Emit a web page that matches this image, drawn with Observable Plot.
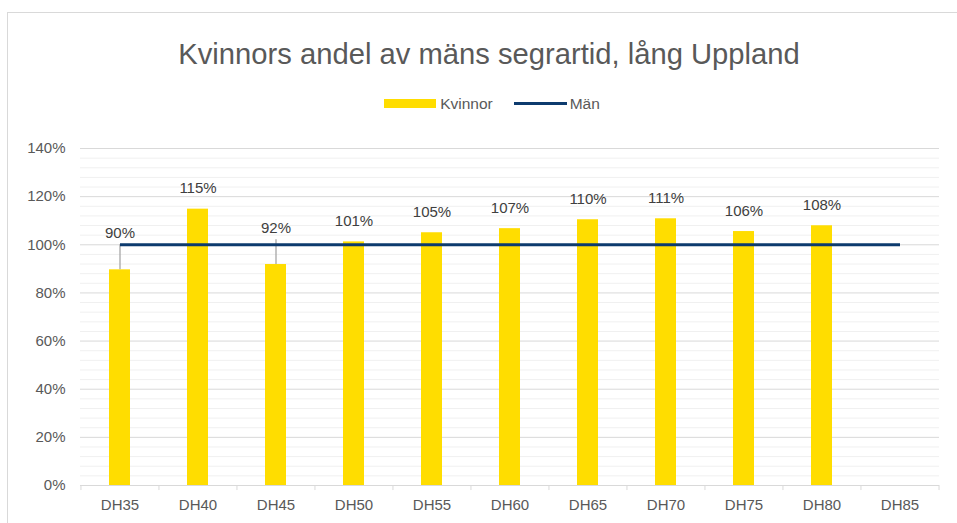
<!DOCTYPE html>
<html>
<head>
<meta charset="utf-8">
<script src="https://cdn.jsdelivr.net/npm/d3@7"></script>
<script src="https://cdn.jsdelivr.net/npm/@observablehq/plot@0.6"></script>
<style>
  html, body { margin: 0; padding: 0; background: #fff; }
  body { width: 957px; height: 523px; position: relative; overflow: hidden; font-family: "Liberation Sans", Arial, sans-serif; }
  #frame { position: absolute; left: 7px; top: 12px; width: 970px; height: 530px; border: 1px solid #d9d9d9; box-sizing: border-box; }
  #title { position: absolute; left: 7px; width: 964px; top: 40px; text-align: center; font-size: 29.2px; line-height: 1; color: #595959; }
  #legend { position: absolute; left: 7px; width: 970px; top: 96px; display: flex; justify-content: center; align-items: center; font-size: 15.5px; line-height: 1; color: #595959; height: 15px; }
  .sw-bar { width: 52px; height: 9px; background: #FFDD00; margin-right: 4px; }
  .sw-line { width: 53px; height: 3px; background: #0d3b6e; margin-right: 3px; margin-left: 21px; }
  #chart { position: absolute; left: 0; top: 125px; }
</style>
</head>
<body>
<div id="frame"></div>
<div id="title">Kvinnors andel av mäns segrartid, lång Uppland</div>
<div id="legend"><div class="sw-bar"></div><span>Kvinnor</span><div class="sw-line"></div><span>Män</span></div>
<div id="chart"></div>
<script>
// ---- data ----
const categories = ["DH35","DH40","DH45","DH50","DH55","DH60","DH65","DH70","DH75","DH80","DH85"];
const kvinnor = [0.896, 1.148, 0.918, 1.012, 1.050, 1.067, 1.104, 1.108, 1.055, 1.079, null];
const man = [1,1,1,1,1,1,1,1,1,1,1];
const yTicks = [0, 0.2, 0.4, 0.6, 0.8, 1.0, 1.2, 1.4];

// labels that were moved above the men's line (with leader lines)
const moved = { DH35: { label: 1.049, leaderTop: 1.0 }, DH45: { label: 1.071, leaderTop: 1.021 } };

const YELLOW = "#FFDD00", NAVY = "#0d3b6e", TEXT = "#595959";

const bars = categories.map((c, i) => ({ cat: c, v: kvinnor[i] })).filter(d => d.v != null);
const line = categories.map((c, i) => ({ cat: c, v: man[i] }));
const fmt = v => Math.round(v * 100) + "%";
const normalLabels = bars.filter(d => !moved[d.cat]).map(d => ({ cat: d.cat, y: d.v, text: fmt(d.v) }));
const movedLabels = bars.filter(d => moved[d.cat]).map(d => ({ cat: d.cat, y: moved[d.cat].label, text: fmt(d.v) }));
const leaders = bars.filter(d => moved[d.cat]).map(d => ({ cat: d.cat, y1: d.v, y2: moved[d.cat].leaderTop }));

const minorTicks = d3.range(0, 36).map(i => i * 0.04).filter(v => Math.abs(v / 0.2 - Math.round(v / 0.2)) > 1e-6);

const W = 957, H = 398;
const mL = 80, mR = 18;
const bw = (W - mL - mR) / categories.length;

const chart = Plot.plot({
  width: W,
  height: H,
  marginTop: 23,
  marginBottom: 38,
  marginLeft: mL,
  marginRight: mR,
  style: { fontFamily: "'Liberation Sans', Arial, sans-serif", fontSize: "15px", color: TEXT, background: "transparent" },
  x: { domain: categories, paddingInner: 0.73, paddingOuter: 0.365, axis: null },
  y: { domain: [0, 1.4], axis: null },
  marks: [
    Plot.ruleY(minorTicks, { stroke: "#f0f0f0", strokeWidth: 1 }),
    Plot.ruleY(yTicks.filter(v => v > 0), { stroke: "#d9d9d9", strokeWidth: 1 }),
    Plot.axisY({ ticks: yTicks, tickSize: 0, tickPadding: 15, tickFormat: fmt, fill: TEXT, fontSize: 15, label: null }),
    Plot.barY(bars, { x: "cat", y: "v", fill: YELLOW }),
    Plot.ruleY([0], { stroke: "#d9d9d9", strokeWidth: 1 }),
    Plot.ruleX(categories, { x: d => d, y1: 0, y2: -0.021, dx: -bw / 2, stroke: "#d9d9d9" }),
    Plot.ruleX(categories.slice(-1), { x: d => d, y1: 0, y2: -0.021, dx: bw / 2, stroke: "#d9d9d9" }),
    Plot.axisX({ tickSize: 0, tickPadding: 14, fill: TEXT, fontSize: 15, label: null }),
    Plot.ruleX(leaders, { x: "cat", y1: "y1", y2: "y2", stroke: "#a6a6a6", strokeWidth: 1.3 }),
    Plot.lineY(line, { x: "cat", y: "v", stroke: NAVY, strokeWidth: 3, strokeLinecap: "butt" }),
    Plot.text(normalLabels, { x: "cat", y: "y", dy: -20.5, text: "text", fill: "#404040", fontSize: 15 }),
    Plot.text(movedLabels, { x: "cat", y: "y", text: "text", fill: "#404040", fontSize: 15 })
  ]
});
document.getElementById("chart").appendChild(chart);
</script>
</body>
</html>
